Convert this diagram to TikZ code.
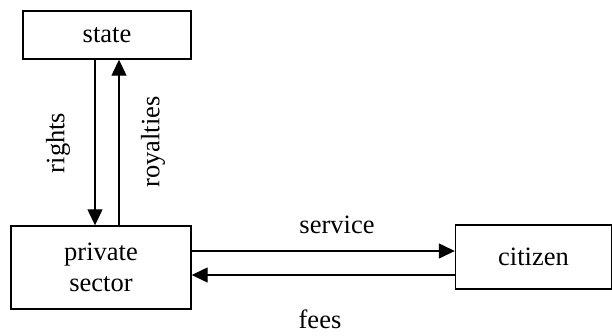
\documentclass[tikz,border=0pt]{standalone}
\usepackage{fontspec}
\setmainfont{Liberation Serif}
\usetikzlibrary{arrows.meta}

\tikzset{
  box/.style={draw, line width=1.4pt, inner sep=0pt, align=center},
  flow/.style={line width=1.3pt, -{Triangle[length=16pt,width=15pt]}},
  lbl/.style={inner sep=0pt}
}

\begin{document}
\begin{tikzpicture}[x=1pt, y=-1pt, font=\fontsize{26.5}{31}\selectfont]
\useasboundingbox (0,0) rectangle (612,335);
% boxes
\node[box, minimum width=168pt, minimum height=48pt] (state) at (107,35) {state};
\node[box, minimum width=180pt, minimum height=83pt] (priv) at (101,267.5) {private\\sector};
\node[box, minimum width=156pt, minimum height=64pt] (cit) at (533.5,257) {citizen};
% arrows
\draw[flow] (state.south -| 95,0) -- (priv.north -| 95,0);
\draw[flow] (priv.north -| 119,0) -- (state.south -| 119,0);
\draw[flow] (priv.east |- 0,251) -- (cit.west |- 0,251);
\draw[flow] (cit.west |- 0,275) -- (priv.east |- 0,275);
% labels
\node[lbl, rotate=90] (rights) at (58,143) {rights};
\node[lbl, rotate=90] (royal) at (153,142) {royalties};
\node[lbl] (serv) at (337,225) {service};
\node[lbl] (fees) at (320,319) {fees};
\end{tikzpicture}
\end{document}
